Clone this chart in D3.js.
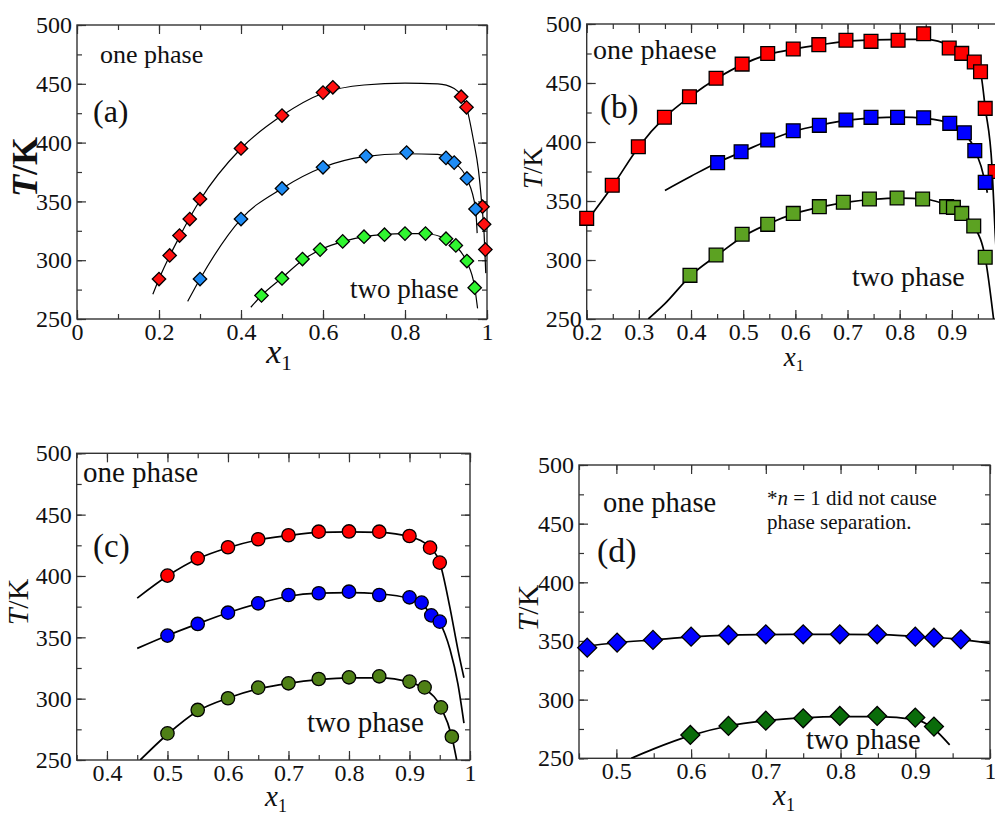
<!DOCTYPE html>
<html>
<head>
<meta charset="utf-8">
<script src="https://cdn.jsdelivr.net/npm/d3@7"></script>
<style>
  body { margin: 0; background: #fff; }
  svg text { font-family: "Liberation Serif", "Times New Roman", serif; fill: #111; }
</style>
</head>
<body>
<svg id="chart" width="995" height="815"></svg>
<script>
// ---- data: [x1, T/K] ----
// panel (a)
var aRed = [[0.2,284],[0.226,304],[0.25,321],[0.275,335],[0.3,352],[0.4,395],[0.5,423],[0.6,442.5],[0.624,447],
            [0.937,439],[0.95,430],[0.989,345.5],[0.993,330.5],[0.996,309]];
var aBlue = [[0.3,284],[0.4,335],[0.5,361],[0.6,379],[0.705,388.5],[0.804,391.5],[0.9,387],[0.92,383],[0.951,369.5],[0.972,343.5]];
var aGreen = [[0.45,270],[0.5,284.5],[0.55,301],[0.593,309],[0.648,316],[0.7,320],[0.75,321.7],[0.8,322.6],[0.85,322.6],
              [0.9,318.3],[0.924,312.6],[0.951,299.3],[0.97,276.6]];
var aRedLine = [[0.185,271],[0.2,284],[0.25,320],[0.3,351],[0.4,395],[0.5,423],[0.6,442],[0.7,449],[0.8,450.5],[0.88,450],
                [0.92,446],[0.937,440],[0.95,430],[0.967,402],[0.979,377],[0.987,349],[0.993,322],[0.997,289]];
var aBlueLine = [[0.27,265],[0.3,284],[0.4,335],[0.5,361],[0.6,379],[0.7,388],[0.8,390.5],[0.88,390],[0.9,388],[0.92,383],
                 [0.95,370],[0.972,344],[0.976,323]];
var aGreenLine = [[0.424,260],[0.45,270],[0.5,285],[0.55,300],[0.6,310],[0.65,316],[0.7,320],[0.75,322],[0.8,322.6],
                  [0.85,322.5],[0.9,318],[0.924,312],[0.95,299],[0.97,277],[0.977,259]];
// panel (b)
var bRed = [[0.2,335.3],[0.249,363.3],[0.299,396],[0.349,421],[0.397,438.4],[0.448,454],[0.498,466],[0.547,475],[0.596,478.8],
            [0.645,482.5],[0.697,486.2],[0.745,485.3],[0.797,486.2],[0.846,491.8],[0.895,479.7],[0.919,475.1],[0.943,467.8],
            [0.955,459.6],[0.964,428.5],[0.983,375]];
var bBlue = [[0.451,382.5],[0.496,391.8],[0.547,401.7],[0.596,409.6],[0.646,414.1],[0.697,418.6],[0.745,420.9],[0.796,420.9],
             [0.846,420.6],[0.896,415.8],[0.924,407.9],[0.944,392.7],[0.964,365.8]];
var bGreen = [[0.398,287],[0.448,304.2],[0.498,321.8],[0.547,330.2],[0.596,339.5],[0.646,345.2],[0.692,348.9],[0.742,351.7],
              [0.795,352.5],[0.844,351.7],[0.89,345.2],[0.903,344.6],[0.919,339.5],[0.942,328.8],[0.964,302.3]];
var bRedLine = [[0.2,333],[0.25,363],[0.3,396],[0.35,421],[0.4,439],[0.45,454],[0.5,466],[0.55,474.5],[0.6,479],[0.65,482.5],
                [0.7,485.5],[0.75,486.5],[0.8,487],[0.85,487],[0.9,481],[0.92,476],[0.945,467],[0.955,459],[0.964,429],
                [0.977,379],[0.983,323],[0.99,270]];
var bBlueLine = [[0.35,359],[0.4,371],[0.45,382.5],[0.5,392],[0.55,401.5],[0.6,409.5],[0.65,414.5],[0.7,418.5],[0.75,420.5],
                 [0.8,421],[0.85,420],[0.9,415],[0.925,407],[0.945,393],[0.964,366],[0.968,357]];
var bGreenLine = [[0.318,250],[0.35,263],[0.4,287],[0.45,304],[0.5,320],[0.55,331],[0.6,339.5],[0.65,345],[0.7,349],[0.75,351.5],
                  [0.8,352.5],[0.85,351.5],[0.89,346.5],[0.92,339],[0.942,329],[0.964,302],[0.98,250]];
// panel (c)
var cRed = [[0.5,400.3],[0.55,414.4],[0.6,423.4],[0.65,429.9],[0.7,433.2],[0.75,436.1],[0.8,436.3],[0.85,436.1],[0.9,432.6],
            [0.934,423.1],[0.95,410.9]];
var cBlue = [[0.5,351.4],[0.55,360.9],[0.6,370.1],[0.65,377.7],[0.7,384.5],[0.75,385.9],[0.8,387.2],[0.85,384.5],[0.9,382.6],
             [0.92,378.3],[0.936,367.9],[0.95,362.8]];
var cGreen = [[0.5,271.7],[0.55,290.8],[0.6,300.3],[0.65,309],[0.7,312.5],[0.75,316],[0.8,317.4],[0.85,318.2],[0.9,313.9],
              [0.925,309.2],[0.952,292.9],[0.97,269]];
var cRedLine = [[0.45,382],[0.5,400],[0.55,414],[0.6,423],[0.65,429.5],[0.7,433],[0.75,435.5],[0.8,436],[0.85,435.5],[0.9,432],
                [0.935,423],[0.95,411],[0.9665,375],[0.98,340],[0.99,317]];
var cBlueLine = [[0.45,341],[0.5,351.5],[0.55,361],[0.6,370],[0.65,377.5],[0.7,383.5],[0.75,386],[0.8,386.5],[0.85,385.5],
                 [0.9,381.5],[0.92,377],[0.936,369],[0.95,362],[0.967,340],[0.98,312],[0.99,280]];
var cGreenLine = [[0.455,250],[0.5,271],[0.55,290],[0.6,300.5],[0.65,308],[0.7,312.5],[0.75,315.5],[0.8,317],[0.85,317],
                  [0.9,313.5],[0.925,308],[0.952,293],[0.97,269],[0.978,250]];
// panel (d)
var dBlue = [[0.461,344.3],[0.501,348.6],[0.549,350.9],[0.6,353.7],[0.65,355.1],[0.7,355.7],[0.75,355.7],[0.799,355.7],
             [0.849,355.7],[0.9,353.7],[0.925,352.8],[0.961,351.4]];
var dGreen = [[0.599,269.9],[0.65,277.6],[0.7,282.1],[0.75,284.1],[0.799,286.1],[0.849,286.1],[0.9,284.7],[0.925,277]];
var dBlueLine = [[0.453,345],[0.5,348.5],[0.55,351],[0.6,353.5],[0.65,355],[0.7,355.5],[0.75,355.7],[0.8,355.7],[0.85,355.5],
                 [0.9,354],[0.95,352],[1.0,348]];
var dGreenLine = [[0.52,250],[0.55,258],[0.6,269.5],[0.65,277.5],[0.7,282],[0.75,284.5],[0.8,285.5],[0.85,285.5],[0.9,283],
                  [0.925,275],[0.946,261.4]];

// tick labels
var yTicks = [250,300,350,400,450,500];
var aXTicks = [0,0.2,0.4,0.6,0.8,1];
var bXTicks = [0.2,0.3,0.4,0.5,0.6,0.7,0.8,0.9];
var cXTicks = [0.4,0.5,0.6,0.7,0.8,0.9,1];
var dXTicks = [0.5,0.6,0.7,0.8,0.9,1];

// ---- layout / styling ----
var panels = [
  { box: {l:77, r:487, t:25, b:319}, xDom: [0,1], xTicks: aXTicks, xMinorStep: 0.1, shape: "diamond", size: 90, lw: 1.2,
    series: [[aRed, aRedLine, "#ff1010"], [aBlue, aBlueLine, "#1e8cf5"], [aGreen, aGreenLine, "#30f530"]],
    ylab: {x:37, y:167, fs:36, fw:"bold"}, xlab: {x:279, y:363, fs:34},
    texts: [["one phase",100,63,26],["(a)",93,122,32],["two phase",350,298,27]] },
  { box: {l:586.7, r:1004, t:24, b:319}, xDom: [0.2,1], xTicks: bXTicks, xMinorStep: 0.05, shape: "square", size: 190, lw: 1.7,
    series: [[bRed, bRedLine, "#ff0000"], [bBlue, bBlueLine, "#0000ff"], [bGreen, bGreenLine, "#5ca222"]],
    ylab: {x:542, y:168, fs:27}, xlab: {x:794, y:366, fs:27},
    texts: [["one phaese",593,59,28],["(b)",600,118,33],["two phase",852,286,28]] },
  { box: {l:76.7, r:470, t:453.3, b:760}, xDom: [0.35,1], xTicks: cXTicks, xMinorStep: 0.05, shape: "circle", size: 140, lw: 1.7,
    series: [[cRed, cRedLine, "#ff0000"], [cBlue, cBlueLine, "#0000ff"], [cGreen, cGreenLine, "#4f8016"]],
    ylab: {x:28, y:602, fs:30}, xlab: {x:276, y:806, fs:29},
    texts: [["one phase",83,482,29],["(c)",93,557,33],["two phase",307,732,29]] },
  { box: {l:579, r:990, t:465, b:758.3}, xDom: [0.45,1], xTicks: dXTicks, xMinorStep: 0.05, shape: "diamond", size: 180, lw: 1.7,
    series: [[dBlue, dBlueLine, "#0000ff"], [dGreen, dGreenLine, "#0a6c0a"]],
    ylab: {x:538, y:608, fs:30}, xlab: {x:784, y:805, fs:29},
    texts: [["one phase",603,512,28.5],["(d)",597,562,34]] }
];

var svg = d3.select("#chart");
var fmt = d3.format("~g");

panels.forEach(function(p, i) {
  var b = p.box;
  var x = d3.scaleLinear().domain(p.xDom).range([b.l, b.r]);
  var y = d3.scaleLinear().domain([250, 500]).range([b.b, b.t]);
  var g = svg.append("g").attr("class", "panel");

  var xMinor = d3.range(p.xDom[0], p.xDom[1] + 1e-9, p.xMinorStep).map(function(v) { return +v.toFixed(3); });
  var yMinor = d3.range(250, 501, 25);

  function axis(gen, vals, size, labels, pad, tx, ty) {
    var a = gen.tickValues(vals).tickSize(size).tickSizeOuter(0).tickPadding(pad)
      .tickFormat(labels ? fmt : "");
    var sel = g.append("g").attr("transform", "translate(" + tx + "," + ty + ")").call(a);
    sel.select(".domain").remove();
    sel.selectAll("line").attr("stroke", "#333").attr("stroke-width", 1.2);
    sel.selectAll("text").attr("font-size", 24).attr("fill", "#111")
      .style("font-family", '"Liberation Serif", serif');
    return sel;
  }
  // minor ticks, all four sides
  axis(d3.axisBottom(x), xMinor, -5, false, 0, 0, b.b);
  axis(d3.axisTop(x), xMinor, -5, false, 0, 0, b.t);
  axis(d3.axisLeft(y), yMinor, -5, false, 0, b.l, 0);
  axis(d3.axisRight(y), yMinor, -5, false, 0, b.r, 0);
  // major ticks with labels
  axis(d3.axisBottom(x), p.xTicks, -9, true, 4, 0, b.b);
  axis(d3.axisTop(x), p.xTicks, -9, false, 0, 0, b.t);
  axis(d3.axisLeft(y), yTicks, -9, true, 5, b.l, 0);
  axis(d3.axisRight(y), yTicks, -9, false, 0, b.r, 0);

  g.append("rect").attr("x", b.l).attr("y", b.t).attr("width", b.r - b.l).attr("height", b.b - b.t)
    .attr("fill", "none").attr("stroke", "#333").attr("stroke-width", 1.4);

  g.append("clipPath").attr("id", "clip" + i).append("rect")
    .attr("x", b.l).attr("y", b.t).attr("width", b.r - b.l).attr("height", b.b - b.t);

  var line = d3.line().x(function(d) { return x(d[0]); }).y(function(d) { return y(d[1]); })
    .curve(d3.curveMonotoneX);

  var sym = p.shape === "circle" ? d3.symbolCircle : d3.symbolSquare;
  var rot = p.shape === "diamond" ? " rotate(45)" : "";

  p.series.forEach(function(s) {
    g.append("path").datum(s[1]).attr("d", line).attr("clip-path", "url(#clip" + i + ")")
      .attr("fill", "none").attr("stroke", "#000").attr("stroke-width", p.lw);
  });
  p.series.forEach(function(s) {
    g.selectAll(null).data(s[0]).enter().append("path")
      .attr("d", d3.symbol().type(sym).size(p.size))
      .attr("transform", function(d) { return "translate(" + x(d[0]) + "," + y(d[1]) + ")" + rot; })
      .attr("fill", s[2]).attr("stroke", "#000").attr("stroke-width", 1.3);
  });

  // axis titles
  var yl = g.append("text").attr("transform", "translate(" + p.ylab.x + "," + p.ylab.y + ") rotate(-90)")
    .attr("text-anchor", "middle").attr("font-size", p.ylab.fs).attr("font-weight", p.ylab.fw || "normal");
  yl.append("tspan").attr("font-style", "italic").text("T");
  yl.append("tspan").text("/K");

  var xl = g.append("text").attr("x", p.xlab.x).attr("y", p.xlab.y)
    .attr("text-anchor", "middle").attr("font-size", p.xlab.fs);
  xl.append("tspan").attr("font-style", "italic").text("x");
  xl.append("tspan").attr("font-size", p.xlab.fs * 0.62).attr("dy", p.xlab.fs * 0.2).text("1");

  p.texts.forEach(function(t) {
    g.append("text").attr("x", t[1]).attr("y", t[2]).attr("font-size", t[3]).text(t[0]);
  });
});

// panel (d) note and "two phase" label
var note = svg.append("text").attr("x", 767).attr("y", 505).attr("font-size", 21);
note.append("tspan").text("*");
note.append("tspan").attr("font-style", "italic").text("n");
note.append("tspan").text(" = 1 did not cause");
svg.append("text").attr("x", 767).attr("y", 529).attr("font-size", 21).text("phase separation.");
svg.append("text").attr("x", 806).attr("y", 749).attr("font-size", 28.5).text("two phase");
</script>
</body>
</html>
